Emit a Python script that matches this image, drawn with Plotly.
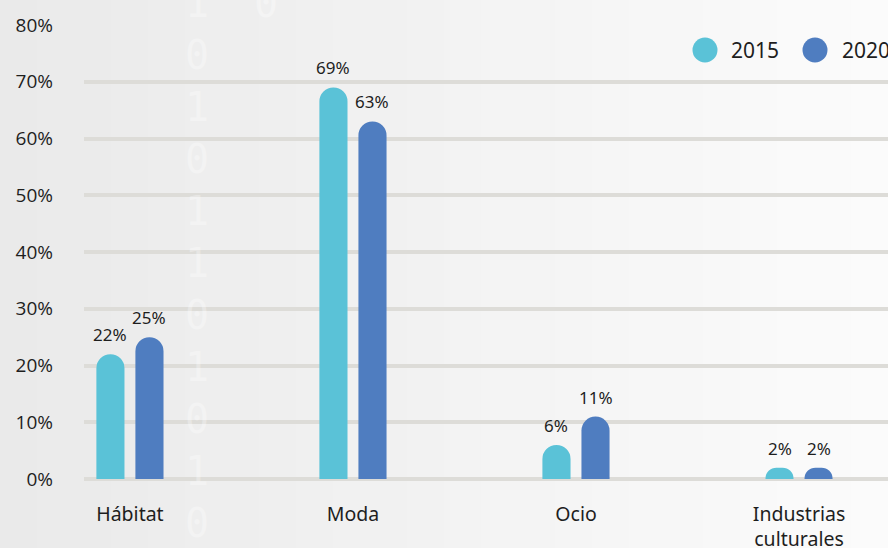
import plotly.graph_objects as go

categories = ["Hábitat", "Moda", "Ocio", "Industrias<br>culturales"]
years = ["2015", "2020"]
values_2015 = [22, 69, 6, 2]
values_2020 = [25, 63, 11, 2]
colors = ["#5ac2d7", "#4f7dc0"]
y_ticks = [0, 10, 20, 30, 40, 50, 60, 70, 80]
binary_digits = "10101101010"

W, H = 888, 548
L, T, B = 84, 25, 69
font_txt = "Noto Sans"
txt_color = "#1e1e1e"

x = list(range(len(categories)))
fig = go.Figure()
for name, vals, col in zip(years, [values_2015, values_2020], colors):
    fig.add_bar(x=x, y=vals, name=name, marker=dict(color=col, cornerradius="50%", line=dict(width=0)),
                showlegend=False, hoverinfo="skip")

# value labels above the bars
shift = 0.0875
for k, vals in enumerate([values_2015, values_2020]):
    off = -shift if k == 0 else shift
    for i, v in zip(x, vals):
        fig.add_annotation(x=i + off, y=v, text=f"{v}%", showarrow=False, yanchor="bottom",
                           yshift=6, font=dict(family=font_txt, size=17, color=txt_color))

# background gradient (left darker -> right lighter)
n = 24
shapes = []
pw = W - L
for b in range(n):
    g = int(round(234 + (251 - 234) * b / (n - 1)))
    x0 = (-L + b * W / n) / pw
    x1 = (-L + (b + 1) * W / n) / pw + 0.002
    shapes.append(dict(type="rect", xref="paper", yref="paper", x0=x0, x1=x1, y0=-0.3, y1=1.2,
                       fillcolor=f"rgb({g},{g},{g})", line=dict(width=0), layer="below"))

# manual legend with large dots
ph = H - T - B
leg_y = (H - B - 50) / ph
for name, col, px, tx in zip(years, colors, [705, 815], [729, 840]):
    xa = (px - L) / pw
    shapes.append(dict(type="circle", xref="paper", yref="paper", xsizemode="pixel", ysizemode="pixel",
                       xanchor=xa, yanchor=leg_y, x0=-12.5, x1=12.5, y0=-12.5, y1=12.5,
                       fillcolor=col, line=dict(width=0)))
    fig.add_annotation(xref="paper", yref="paper", x=(tx - L) / pw, y=leg_y, xanchor="left",
                       yanchor="middle", text=name, showarrow=False,
                       font=dict(family=font_txt, size=21, color=txt_color))

# faint binary watermark
wm = dict(family="DejaVu Sans Mono", size=40, color="rgba(255,255,255,0.32)")
for j, d in enumerate(binary_digits):
    fig.add_annotation(xref="paper", yref="paper", x=(183 - L) / pw, y=(H - B - (3 + 52 * j)) / ph,
                       text=d, showarrow=False, yanchor="middle", font=wm)
fig.add_annotation(xref="paper", yref="paper", x=(252 - L) / pw, y=(H - B - 3) / ph, text="0",
                   showarrow=False, yanchor="middle", font=wm)

fig.update_layout(
    width=W, height=H,
    margin=dict(l=L, r=0, t=T, b=B, pad=0),
    paper_bgcolor="#f3f3f3", plot_bgcolor="rgba(0,0,0,0)",
    barmode="group", bargap=0.65, bargroupgap=0.28,
    shapes=shapes,
    xaxis=dict(range=[-0.206, 3.399], tickvals=x, ticktext=categories, showgrid=False, zeroline=False,
               showline=False, ticks="", ticklabelstandoff=21, automargin=False,
               tickfont=dict(family=font_txt, size=19.5, color=txt_color)),
    yaxis=dict(range=[0, 80], tickvals=y_ticks, ticktext=[f"{v}%" for v in y_ticks],
               showgrid=True, gridcolor="#dddcd8", automargin=False,
               gridwidth=4, zeroline=True, zerolinecolor="#dddcd8", zerolinewidth=4, showline=False,
               ticks="", ticklabelstandoff=30,
               tickfont=dict(family="Open Sans", size=19, color=txt_color)),
)

fig.write_html("out.html", config={"displayModeBar": False},
               post_script="document.body.style.margin='0';")
